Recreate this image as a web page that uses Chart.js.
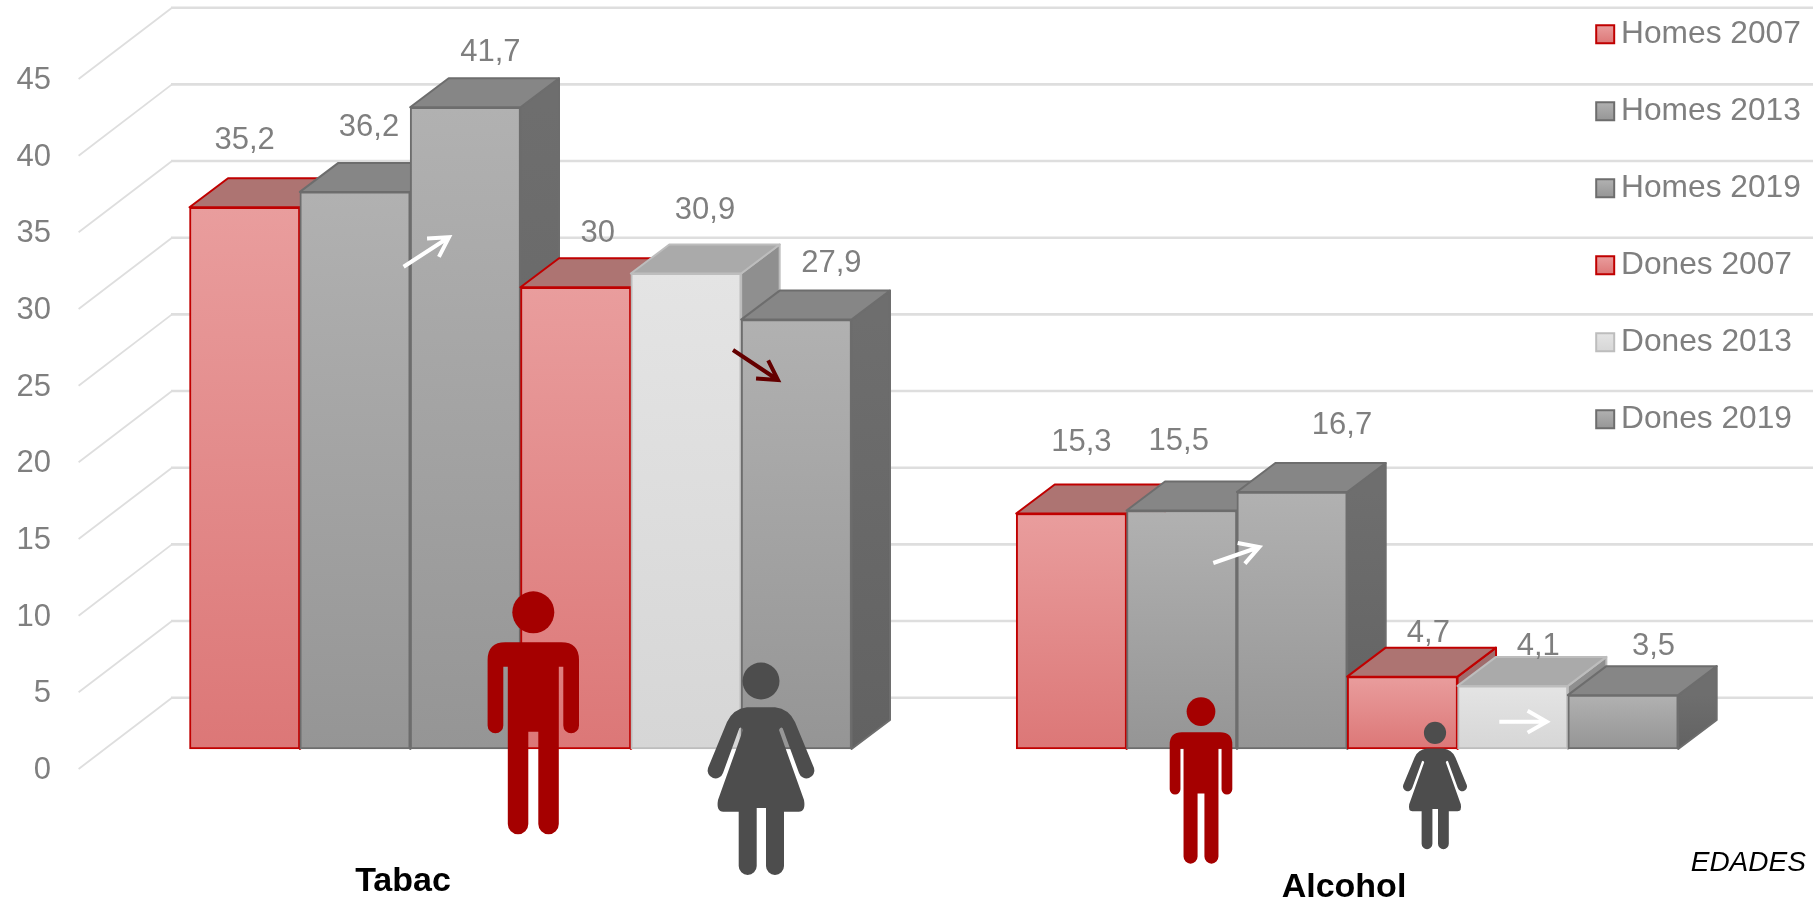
<!DOCTYPE html>
<html><head><meta charset="utf-8">
<style>html,body{margin:0;padding:0;background:#fff}canvas{display:block}</style>
<script src="https://cdn.jsdelivr.net/npm/chart.js@4/dist/chart.umd.min.js"></script>
</head><body><canvas id="c" width="1813" height="901"></canvas>
<script>
const categories = ['Tabac', 'Alcohol'];
const seriesNames = ['Homes 2007', 'Homes 2013', 'Homes 2019', 'Dones 2007', 'Dones 2013', 'Dones 2019'];
const homes2007 = [35.2, 15.3];
const homes2013 = [36.2, 15.5];
const homes2019 = [41.7, 16.7];
const dones2007 = [30, 4.7];
const dones2013 = [30.9, 4.1];
const dones2019 = [27.9, 3.5];
const seriesValues = [homes2007, homes2013, homes2019, dones2007, dones2013, dones2019];
const sourceNote = 'EDADES';

const FONT = '"Liberation Sans", Arial, sans-serif';
const TEXT_GREY = '#7f7f7f';
const RED = {top:'#e99d9d', bottom:'#dc7777', line:'#c00000', cap:'#ad7472', side:'#a06c6c', sideEnd:'#a06c6c'};
const GREY = {top:'#b1b1b1', bottom:'#959595', line:'#6d6d6d', cap:'#868686', side:'#6e6e6e', sideEnd:'#626262'};
const LIGHT = {top:'#e4e4e4', bottom:'#d6d6d6', line:'#bdbdbd', cap:'#aaaaaa', side:'#8f8f8f', sideEnd:'#8f8f8f'};
const palette = [RED, GREY, GREY, RED, LIGHT, GREY];

const DEPTH_X = 38.5, DEPTH_Y = 29;        // oblique offset of the bar tops
const TICK_SHIFT = 1.5;                    // tick labels sit just under their wall lines
const WALL_X = 93.4, WALL_Y = 71.3;        // oblique offset of the back wall
const BAR_PX = 15.39;                      // pixels per unit on the bars' front plane

// Label offsets from each bar's top centre: [[dx,dy] Tabac, [dx,dy] Alcohol]
const labelOffsets = [
  [[0,-67],[10,-71.5]], [[14,-64],[-3,-69.5]], [[25,-55],[50,-66.5]],
  [[22,-54],[26,-43.5]], [[19,-63],[25.6,-39]], [[35,-56.5],[30.5,-48.5]]
];

const MAN = new Path2D('M-28 50.3L28 50.3Q45.7 50.3 45.7 68L45.7 133.5A7.85 7.85 0 0 1 30 133.5L30 74.7L25.5 74.7L25.5 232A10.25 10.25 0 0 1 5 232L5 139.7L-5 139.7L-5 232A10.25 10.25 0 0 1 -25.5 232L-25.5 74.7L-30 74.7L-30 133.5A7.85 7.85 0 0 1 -45.7 133.5L-45.7 68Q-45.7 50.3 -28 50.3Z');
const WOMAN = new Path2D('M-14 44.3L14 44.3Q28 46 34 59L53 105A7.5 7.5 0 0 1 38 110L21.7 65.3Q19.5 63 18 67L43 137Q45 148.7 37.7 148.7L23 148.7L23 203A9 9 0 0 1 5 203L5 145L-4.3 145L-4.3 203A9 9 0 0 1 -22.3 203L-22.3 148.7L-37.7 148.7Q-45 148.7 -43 137L-18 67Q-19.5 63 -21.7 65.3L-38 110A7.5 7.5 0 0 1 -53 105L-34 59Q-28 46 -14 44.3Z');

function figure(ctx, path, headY, headR, color, cx, top, k) {
  ctx.save();
  ctx.translate(cx, top); ctx.scale(k, k);
  ctx.fillStyle = color;
  ctx.fill(path);
  ctx.beginPath(); ctx.arc(0, headY, headR, 0, Math.PI * 2); ctx.fill();
  ctx.restore();
}
function arrow(ctx, x1, y1, x2, y2, color) {
  const a = Math.atan2(y2 - y1, x2 - x1), L = 22, s = 0.52;
  ctx.save();
  ctx.strokeStyle = color; ctx.lineWidth = 4; ctx.lineCap = 'butt'; ctx.lineJoin = 'miter';
  ctx.beginPath(); ctx.moveTo(x1, y1); ctx.lineTo(x2, y2);
  ctx.moveTo(x2 - L * Math.cos(a - s), y2 - L * Math.sin(a - s));
  ctx.lineTo(x2, y2);
  ctx.lineTo(x2 - L * Math.cos(a + s), y2 - L * Math.sin(a + s));
  ctx.stroke();
  ctx.restore();
}

const scene = {
  id: 'scene',
  afterLayout(chart) {
    const l = chart.legend;          // the legend column sits at the top right
    l.left = 1559.85; l.right = 1813; l.width = 253.15;
    l.top = -27; l.bottom = 640; l.height = 667;
  },
  beforeDatasetDraw() { return false; },   // bars are painted left to right below
  beforeDatasetsDraw(chart) {
    const ctx = chart.ctx, sy = chart.scales.y;
    // back wall and side wall grid
    ctx.save();
    ctx.strokeStyle = '#dedede';
    sy.ticks.forEach(t => {
      const y = sy.getPixelForValue(t.value) - TICK_SHIFT;
      const x0 = 78.6, x1 = x0 + WALL_X, y1 = y - WALL_Y;
      ctx.lineWidth = 1.8;
      ctx.beginPath(); ctx.moveTo(x0, y); ctx.lineTo(x1, y1); ctx.stroke();
      ctx.lineWidth = 2.6;
      ctx.beginPath(); ctx.moveTo(x1 - 1, y1); ctx.lineTo(1813, y1); ctx.stroke();
    });
    ctx.restore();
    // bars with oblique faces
    categories.forEach((cat, ci) => {
      seriesValues.forEach((vals, si) => {
        const el = chart.getDatasetMeta(si).data[ci], p = palette[si];
        const L = el.x - el.width / 2, R = el.x + el.width / 2, T = el.y, B = el.base;
        ctx.save();
        ctx.strokeStyle = p.line; ctx.lineWidth = 2; ctx.lineJoin = 'round';
        const g = ctx.createLinearGradient(0, T, 0, B);
        g.addColorStop(0, p.side); g.addColorStop(1, p.sideEnd);
        ctx.fillStyle = g;
        ctx.beginPath();
        ctx.moveTo(R, T); ctx.lineTo(R + DEPTH_X, T - DEPTH_Y); ctx.lineTo(R + DEPTH_X, B - DEPTH_Y); ctx.lineTo(R, B); ctx.closePath();
        ctx.fill(); ctx.stroke();
        ctx.fillStyle = p.cap;
        ctx.beginPath();
        ctx.moveTo(L, T); ctx.lineTo(L + DEPTH_X, T - DEPTH_Y); ctx.lineTo(R + DEPTH_X, T - DEPTH_Y); ctx.lineTo(R, T); ctx.closePath();
        ctx.fill(); ctx.stroke();
        ctx.restore();
        el.draw(ctx);
      });
    });
  },
  afterDatasetsDraw(chart) {
    const ctx = chart.ctx;
    arrow(ctx, 403.6, 266.7, 449, 237.3, '#ffffff');
    arrow(ctx, 733, 350, 778, 380, '#640000');
    arrow(ctx, 1213.3, 563, 1259.3, 547, '#ffffff');
    arrow(ctx, 1499.3, 721.7, 1546.7, 721.7, '#ffffff');
    figure(ctx, MAN, 20.3, 21, '#a50000', 533.3, 592, 1);
    figure(ctx, WOMAN, 18, 18.5, '#4d4d4d', 761, 663, 1);
    figure(ctx, MAN, 20.3, 21, '#a50000', 1201, 697.7, 0.685);
    figure(ctx, WOMAN, 18, 18.5, '#4d4d4d', 1435, 722, 0.6);
    ctx.save();
    ctx.textAlign = 'center'; ctx.textBaseline = 'middle';
    ctx.fillStyle = TEXT_GREY; ctx.font = '31px ' + FONT;
    seriesValues.forEach((vals, si) => vals.forEach((v, ci) => {
      const el = chart.getDatasetMeta(si).data[ci], o = labelOffsets[si][ci];
      ctx.fillText(String(v).replace('.', ','), el.x + o[0], el.y + o[1]);
    }));
    ctx.fillStyle = '#000'; ctx.font = 'bold 34px ' + FONT;
    ctx.fillText(categories[0], 403, 882);
    ctx.fillText(categories[1], 1344, 888);
    ctx.font = 'italic 28px ' + FONT; ctx.textAlign = 'left';
    ctx.fillText(sourceNote, 1690.7, 863);
    ctx.restore();
  }
};

function barFill(c) {
  const p = palette[c.datasetIndex];
  if (c.type !== 'data') return p.top;
  const s = c.chart.scales.yBars;
  const g = c.chart.ctx.createLinearGradient(0, s.getPixelForValue(c.raw), 0, s.getPixelForValue(0));
  g.addColorStop(0, p.top); g.addColorStop(1, p.bottom);
  return g;
}

new Chart(document.getElementById('c'), {
  type: 'bar',
  data: {
    labels: categories,
    datasets: seriesNames.map((name, i) => ({
      label: name, data: seriesValues[i], yAxisID: 'yBars',
      backgroundColor: barFill, borderColor: palette[i].line, borderWidth: 2, borderSkipped: false
    }))
  },
  plugins: [scene],
  options: {
    responsive: false, animation: false, devicePixelRatio: 1,
    barThickness: 110.33,
    layout: { padding: { top: 80.5, bottom: 130.5, left: 0, right: 52.45 } },
    scales: {
      x: { display: false, offset: true },
      y: {
        position: 'left', min: 0, max: 45,
        afterFit(s) { s.width = 107.15; },
        grid: { display: false }, border: { display: false },
        ticks: { stepSize: 5, padding: 48.15, color: TEXT_GREY, font: { family: FONT, size: 31 } }
      },
      yBars: { display: false, min: -21.5 / BAR_PX, max: (690 - 21.5) / BAR_PX }
    },
    plugins: {
      tooltip: { enabled: false },
      legend: {
        position: 'chartArea', align: 'start',
        labels: {
          usePointStyle: true, pointStyle: 'rect', boxWidth: 0.1, boxHeight: 18, padding: 45.3,
          color: TEXT_GREY, font: { family: FONT, size: 31.7 },
          generateLabels(chart) {
            return seriesNames.map((name, i) => {
              const p = palette[i], y = 25.5 + 77 * i;
              const g = chart.ctx.createLinearGradient(0, y, 0, y + 18);
              g.addColorStop(0, p.top); g.addColorStop(1, p.bottom);
              return { text: name, fillStyle: g, strokeStyle: p.line, lineWidth: 2, pointStyle: 'rect', datasetIndex: i, fontColor: TEXT_GREY };
            });
          }
        }
      }
    }
  }
});
</script></body></html>
